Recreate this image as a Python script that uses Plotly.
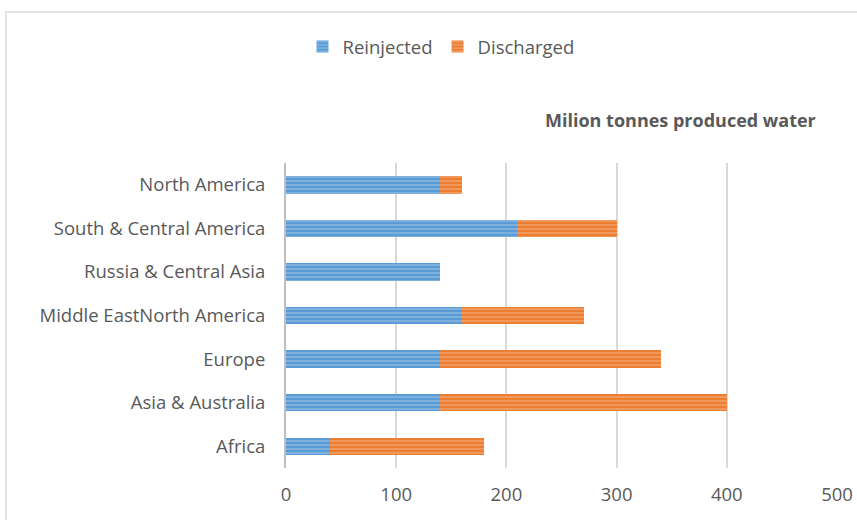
import plotly.graph_objects as go

categories = ["North America", "South & Central America", "Russia & Central Asia",
              "Middle EastNorth America", "Europe", "Asia & Australia", "Africa"]
reinjected = [140, 210, 140, 160, 140, 140, 40]
discharged = [20, 90, 0, 110, 200, 260, 140]
x_ticks = [0, 100, 200, 300, 400, 500]

W, H = 857, 520
L, R, T, B = 286, 837, 163, 468

FONT = "Open Sans"
GRAY = "#595959"
FS = 18.5

fig = go.Figure()
fig.add_trace(go.Bar(
    y=categories, x=reinjected, name="Reinjected", orientation="h",
    marker=dict(color="#5b9bd5", line=dict(width=0),
                pattern=dict(shape="-", fgcolor="#a9cbea", size=4, solidity=0.45, fillmode="overlay")),
))
fig.add_trace(go.Bar(
    y=categories, x=discharged, name="Discharged", orientation="h",
    marker=dict(color="#ed7d31", line=dict(width=0),
                pattern=dict(shape="-", fgcolor="#f6b890", size=4, solidity=0.45, fillmode="overlay")),
))

pw, ph = R - L, B - T
fig.add_shape(type="rect", xref="paper", yref="paper",
              x0=(6 - L) / pw, x1=(W + 20 - L) / pw,
              y0=(B - (H + 20)) / ph, y1=(B - 12) / ph,
              line=dict(color="#d9d9d9", width=1.5), fillcolor="rgba(0,0,0,0)", layer="below")

fig.add_annotation(text="<b>Milion tonnes produced water</b>", xref="paper", yref="paper",
                   x=(818 - L) / pw, y=(B - 120) / ph, xanchor="right", yanchor="middle",
                   showarrow=False, font=dict(family=FONT, size=18, color=GRAY))

fig.update_layout(
    width=W, height=H,
    margin=dict(l=L, r=W - R, t=T, b=H - B, pad=0, autoexpand=False),
    paper_bgcolor="white", plot_bgcolor="white",
    barmode="stack", bargap=0.6,
    font=dict(family=FONT, size=FS, color=GRAY),
    legend=dict(orientation="h", xref="container", yref="container",
                x=441 / W, y=1 - 47 / H, xanchor="center", yanchor="middle",
                font=dict(family=FONT, size=FS, color=GRAY), traceorder="normal",
                itemwidth=30),
    xaxis=dict(range=[0, 500], tickvals=x_ticks, ticktext=[str(v) for v in x_ticks],
               showgrid=True, gridcolor="#d9d9d9", gridwidth=2, zeroline=False,
               showline=False, ticks="", ticklabelstandoff=13, automargin=False,
               tickfont=dict(family=FONT, size=FS, color=GRAY)),
    yaxis=dict(autorange="reversed", showline=True, linecolor="#bfbfbf", linewidth=2,
               ticks="", showgrid=False, ticklabelstandoff=15, automargin=False,
               tickfont=dict(family=FONT, size=FS, color=GRAY)),
)

fig.write_html("out.html")
